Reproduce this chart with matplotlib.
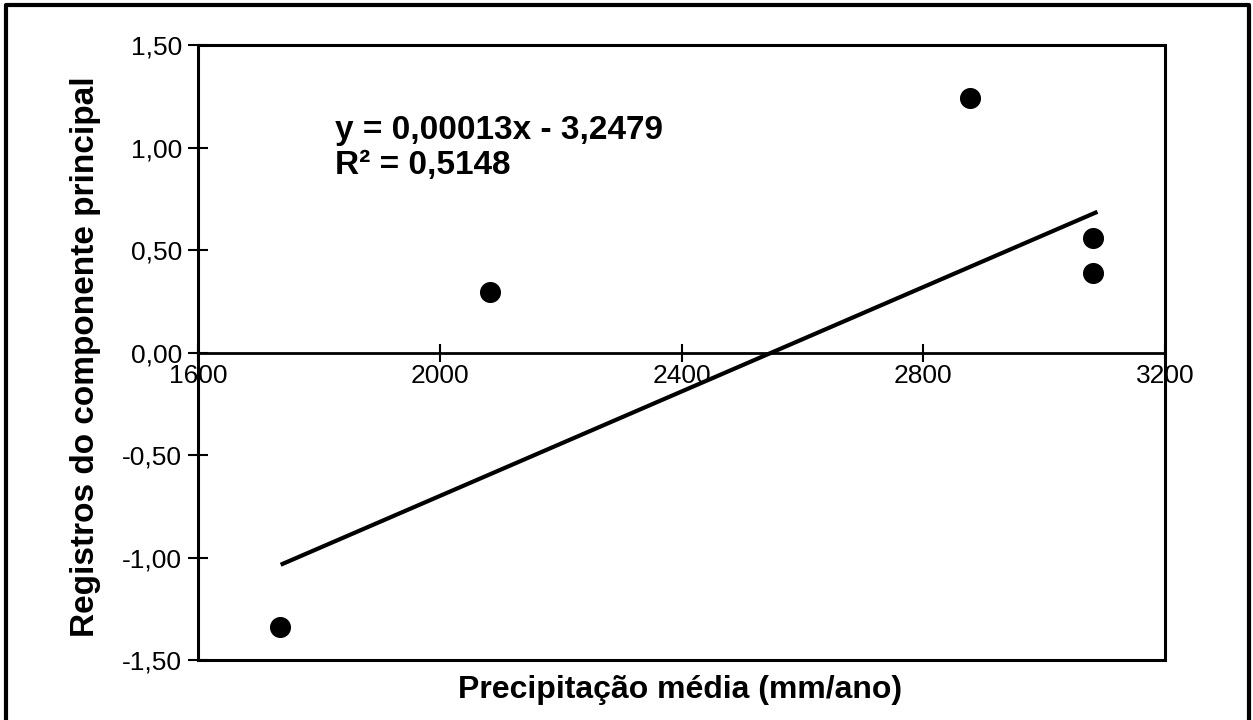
import numpy as np
import matplotlib
matplotlib.use("Agg")
import matplotlib.pyplot as plt
from matplotlib.patches import Rectangle
from matplotlib.lines import Line2D
from matplotlib.ticker import FuncFormatter

plt.rcParams['font.family'] = ['Liberation Sans', 'DejaVu Sans']

# data
precip = [1736, 2083, 2877, 3081, 3081]
scores = [-1.341, 0.295, 1.241, 0.559, 0.388]

# trend line as drawn in the original
trend_slope = 0.001274
trend_intercept = -3.2479
trend_span = [1740, 3085]

eq_text = "y = 0,00013x - 3,2479\nR\u00b2 = 0,5148"
x_ticks = [1600, 2000, 2400, 2800, 3200]
y_ticks = [-1.5, -1.0, -0.5, 0.0, 0.5, 1.0, 1.5]

fig = plt.figure(figsize=(12.53, 7.2), dpi=100, facecolor='w')
ax = fig.add_axes([0.158, 0.0833, 0.7718, 0.8542])

ax.scatter(precip, scores, s=200, c='k', zorder=3)
tx = np.array(trend_span)
ax.plot(tx, trend_slope * tx + trend_intercept, 'k-', lw=3, zorder=2)

ax.set_xlim(1600, 3200)
ax.set_ylim(-1.5, 1.5)
ax.set_xticks(x_ticks)
ax.set_yticks(y_ticks)
ax.yaxis.set_major_formatter(FuncFormatter(lambda v, p: f"{v:.2f}".replace('.', ',')))

# x axis runs along y = 0, frame drawn separately
for s in ['top', 'right', 'left', 'bottom']:
    ax.spines[s].set_visible(False)
ax.spines['bottom'].set_visible(True)
ax.spines['bottom'].set_position(('data', 0))
ax.spines['bottom'].set_linewidth(2)
ax.add_patch(Rectangle((0, 0), 1, 1, transform=ax.transAxes, fill=False,
                       lw=2.2, ec='k', clip_on=False, zorder=4))

ax.tick_params(axis='x', direction='inout', length=13, width=1.5, labelsize=19, pad=2)
ax.tick_params(axis='y', direction='inout', length=15, width=1.5, labelsize=19, pad=4)

ax.text(0.1417, 0.886, eq_text, transform=ax.transAxes, fontsize=24,
        fontweight='bold', va='top', ha='left', linespacing=1.15)

fig.text(0.5427, 0.042, "Precipitação média (mm/ano)", fontsize=23,
         fontweight='bold', ha='center', va='center')
fig.text(0.068, 0.504, "Registros do componente principal", fontsize=24,
         fontweight='bold', ha='center', va='center', rotation=90)

# outer frame around the figure (bottom edge is cut off)
fig.add_artist(Line2D([0.005, 0.005, 0.997, 0.997], [0.0, 0.993, 0.993, 0.0],
                      transform=fig.transFigure, color='k', lw=3))

fig.savefig("out.png", dpi=100, facecolor='w')
